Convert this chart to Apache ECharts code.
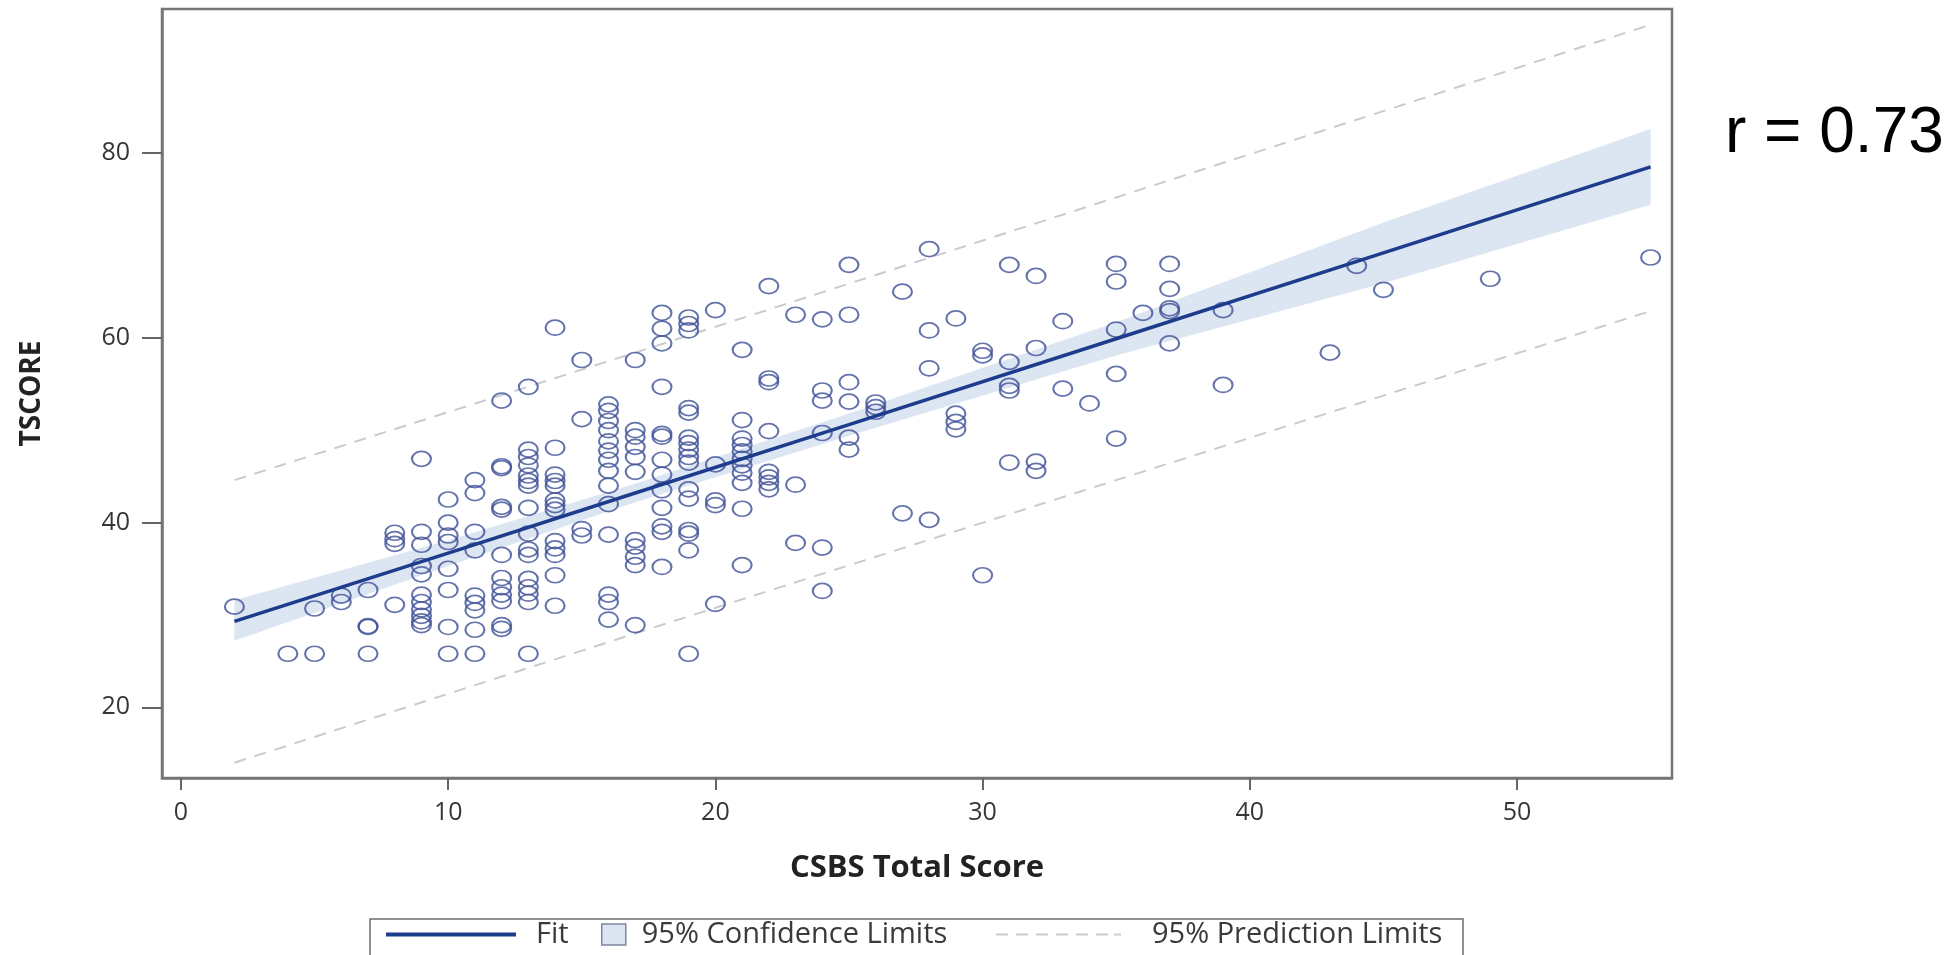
<!DOCTYPE html>
<html>
<head>
<meta charset="utf-8">
<script src="https://cdn.jsdelivr.net/npm/echarts@6/dist/echarts.min.js"></script>
<style>
html,body{margin:0;padding:0;background:#ffffff;}
#c{width:1953px;height:955px;}
</style>
</head>
<body>
<div id="c"></div>
<script>
// ---- data ----
const xScores = [2,4,5,6,7,8,9,10,11,12,13,14,15,16,17,18,19,20,21,22,23,24,25,26,27,28,29,30,31,32,33,34,35,36,37,39,43,44,45,49,55];
const tScores = [
  [30.9],
  [25.8],
  [30.7,25.8],
  [32.1,31.4],
  [32.7,28.8,28.7,25.8],
  [38.9,38.2,37.7,31.1],
  [46.9,39.0,37.6,35.3,34.4,32.2,31.4,30.6,29.9,29.3,28.9],
  [42.5,40.0,38.6,37.9,35.0,32.7,28.7,25.8],
  [44.6,43.2,39.0,37.0,32.1,31.3,30.5,28.4,25.8],
  [53.2,46.1,45.9,41.7,41.4,36.5,34.0,33.0,32.2,31.5,28.9,28.5],
  [54.7,47.9,47.1,46.2,45.1,44.5,44.0,41.6,38.8,37.1,36.5,33.9,33.0,32.3,31.4,25.8],
  [61.1,48.1,45.2,44.5,44.0,42.4,41.9,41.4,38.0,37.2,36.5,34.3,31.0],
  [57.6,51.2,39.3,38.6],
  [52.8,52.1,51.0,50.0,48.8,47.8,46.8,45.6,44.0,42.0,38.7,32.2,31.4,29.5],
  [57.6,50.0,49.3,48.2,47.1,45.5,38.1,37.4,36.3,35.4,28.9],
  [62.7,61.0,59.4,54.7,49.6,49.3,46.8,45.2,43.5,41.6,39.6,39.0,35.2],
  [62.2,61.5,60.8,52.4,51.9,49.2,48.6,47.9,47.1,46.5,43.6,42.6,39.2,38.8,37.0,25.8],
  [63.0,46.3,42.4,41.9,31.2],
  [58.7,51.1,49.1,48.4,47.7,46.9,46.2,45.4,44.3,41.5,35.4],
  [65.6,55.6,55.2,49.9,45.5,44.9,44.3,43.6],
  [62.5,44.1,37.8],
  [62.0,54.3,53.2,49.7,37.3,32.6],
  [67.9,62.5,55.2,53.1,49.2,47.9],
  [53.0,52.5,52.0],
  [65.0,41.0],
  [69.6,60.8,56.7,40.3],
  [62.1,51.8,50.9,50.1],
  [58.6,58.1,34.3],
  [67.9,57.4,54.8,54.3,46.5],
  [66.7,58.9,46.6,45.6],
  [61.8,54.5],
  [52.9],
  [68.0,66.1,60.9,56.1,49.1],
  [62.7],
  [68.0,65.3,63.2,62.9,59.4],
  [63.0,54.9],
  [58.4],
  [67.8],
  [65.2],
  [66.4],
  [68.7]
];
const fitX   = [2, 10, 17, 25, 35, 45, 55];
const fitY   = [29.3, 36.7, 43.2, 50.6, 59.9, 69.2, 78.5];
const clLow  = [27.2, 35.3, 42.2, 49.4, 58.1, 65.9, 74.4];
const clHigh = [31.6, 38.1, 44.2, 51.8, 61.7, 72.5, 82.6];
const plX    = [2, 17, 35, 55];
const plLow  = [14.0, 28.0, 44.6, 62.9];
const plHigh = [44.6, 58.4, 75.2, 93.9];
const xTicks = [0, 10, 20, 30, 40, 50];
const yTicks = [20, 40, 60, 80];
const legendNames = ['Fit', '95% Confidence Limits', '95% Prediction Limits'];
const xTitle = 'CSBS Total Score';
const yTitle = 'TSCORE';
const rText = 'r = 0.73';

// ---- build series data ----
const scatterData = [];
xScores.forEach((x, i) => tScores[i].forEach(y => scatterData.push([x, y])));
const fitData = fitX.map((x, i) => [x, fitY[i]]);
const bandData = fitX.map((x, i) => [x, clLow[i], clHigh[i]]);
const plLowData = plX.map((x, i) => [x, plLow[i]]);
const plHighData = plX.map((x, i) => [x, plHigh[i]]);

const FONT = '"Open Sans", "DejaVu Sans", sans-serif';
const FRAME = '#767676';
const DASH_PATH = 'path://M0,0h12v2h-12z M20,0h12v2h-12z M40,0h12v2h-12z M60,0h12v2h-12z M80,0h12v2h-12z M100,0h12v2h-12z M118,0h7v2h-7z';

const chart = echarts.init(document.getElementById('c'), null, {renderer: 'canvas'});

const legendText = {fontFamily: FONT, fontSize: 29, color: '#3a3a3a'};

chart.setOption({
  animation: false,
  backgroundColor: '#ffffff',
  grid: {left: 162, right: 281, top: 9, bottom: 177, show: true, borderColor: FRAME, borderWidth: 2.5, containLabel: false},
  xAxis: {
    type: 'value', min: -0.71, max: 55.8,
    splitLine: {show: false},
    axisLine: {show: true, onZero: false, lineStyle: {color: FRAME, width: 2.5}},
    axisTick: {show: true, customValues: xTicks, length: 12, lineStyle: {color: '#666666', width: 2}},
    axisLabel: {customValues: xTicks, margin: 22, fontFamily: FONT, fontSize: 25, color: '#363636'},
    name: xTitle, nameLocation: 'middle', nameGap: 75,
    nameTextStyle: {fontFamily: FONT, fontWeight: 'bold', fontSize: 31, color: '#222222'}
  },
  yAxis: {
    type: 'value', min: 12.35, max: 95.6,
    splitLine: {show: false},
    axisLine: {show: true, onZero: false, lineStyle: {color: FRAME, width: 2.5}},
    axisTick: {show: true, customValues: yTicks, length: 20, lineStyle: {color: '#666666', width: 2}},
    axisLabel: {customValues: yTicks, margin: 32, fontFamily: FONT, fontSize: 25, color: '#363636'},
    name: yTitle, nameLocation: 'middle', nameGap: 116,
    nameTextStyle: {fontFamily: FONT, fontWeight: 'bold', fontSize: 28, color: '#222222'}
  },
  legend: [
    {
      left: 386, top: 920, padding: 0, selectedMode: false,
      icon: 'rect', itemWidth: 130, itemHeight: 4,
      data: [{name: legendNames[0], itemStyle: {color: '#1d3c8c'}}],
      textStyle: Object.assign({padding: [0, 0, 0, 15]}, legendText)
    },
    {
      left: 601, top: 920, padding: 0, selectedMode: false,
      icon: 'rect', itemWidth: 24, itemHeight: 21,
      data: [{name: legendNames[1], itemStyle: {color: '#dce5f2', borderColor: '#7d869f', borderWidth: 1.5}}],
      textStyle: Object.assign({padding: [0, 0, 0, 11]}, legendText)
    },
    {
      left: 996, top: 920, padding: 0, selectedMode: false,
      icon: DASH_PATH, symbolKeepAspect: false, itemWidth: 125, itemHeight: 2,
      data: [{name: legendNames[2], itemStyle: {color: '#c9cbd3'}}],
      textStyle: Object.assign({padding: [0, 0, 0, 26]}, legendText)
    }
  ],
  graphic: [
    {type: 'rect', silent: true, shape: {x: 370, y: 919, width: 1093, height: 60},
     style: {fill: 'none', stroke: '#6e6e6e', lineWidth: 1.5}},
    {type: 'text', silent: true, x: 1725, y: 134,
     style: {text: rText, fontFamily: '"Liberation Sans", Arial, sans-serif', fontSize: 64, fill: '#000000', verticalAlign: 'middle', align: 'left'}}
  ],
  series: [
    {
      name: legendNames[1], type: 'custom', z: 1, silent: true,
      data: bandData, encode: {x: 0, y: [1, 2]},
      itemStyle: {color: '#dce5f2'},
      renderItem: function (params, api) {
        if (params.dataIndex !== 0) return null;
        const pts = [];
        for (let i = 0; i < fitX.length; i++) pts.push(api.coord([fitX[i], clHigh[i]]));
        for (let i = fitX.length - 1; i >= 0; i--) pts.push(api.coord([fitX[i], clLow[i]]));
        return {type: 'polygon', shape: {points: pts}, style: {fill: '#dce5f2'}};
      }
    },
    {
      name: legendNames[2], type: 'line', z: 2, silent: true, symbol: 'none',
      data: plLowData, lineStyle: {color: '#c9cbd3', width: 2, type: [12, 9]}
    },
    {
      name: legendNames[2], type: 'line', z: 2, silent: true, symbol: 'none',
      data: plHighData, lineStyle: {color: '#c9cbd3', width: 2, type: [12, 9]}
    },
    {
      name: 'TSCORE', type: 'scatter', z: 3, silent: true,
      symbol: 'circle', symbolSize: [19, 15],
      data: scatterData,
      itemStyle: {color: 'rgba(0,0,0,0)', borderColor: '#3e5097', borderWidth: 1.9}
    },
    {
      name: legendNames[0], type: 'line', z: 4, silent: true, symbol: 'none',
      data: fitData, lineStyle: {color: '#1d3c8c', width: 3.5}
    }
  ]
});
</script>
</body>
</html>
